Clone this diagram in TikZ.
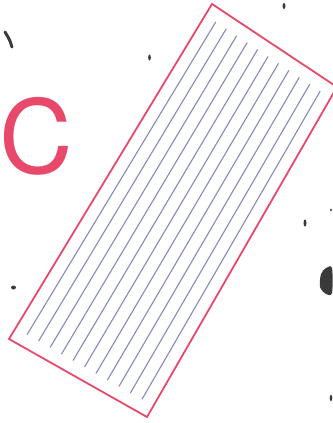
\documentclass[tikz,border=0pt]{standalone}
\usepackage{fontspec}
\setsansfont{TeX Gyre Heros}
\usetikzlibrary{positioning,calc}
\definecolor{pinkred}{HTML}{E8496A}
\definecolor{hatchblue}{HTML}{8589BC}
\definecolor{speck}{HTML}{3A3A3A}
\tikzset{
  frame/.style={draw=pinkred,line width=1.8pt,line join=miter},
  hatch/.style={draw=hatchblue,line width=1.1pt,line cap=round},
  letter/.style={text=pinkred,font=\sffamily\fontsize{102}{102}\selectfont,inner sep=0pt},
  dot/.style={fill=speck,draw=none},
  squig/.style={draw=speck,line width=3pt,line cap=round,line join=round},
}
\begin{document}
\begin{tikzpicture}[x=1pt,y=1pt]
  \useasboundingbox (0,0) rectangle (332,-423);
  % the letter
  \node[letter] (lbl) at (36,-136) {C};
  % corners of the tilted plate
  \coordinate (pt) at (212,-4);
  \coordinate (pr) at (337,-87);
  \coordinate (pb) at (147,-417);
  \coordinate (pl) at (9,-339);
  \draw[frame] (pt) -- (pr) -- (pb) -- (pl) -- cycle;
  % lines inside the plate
  \foreach \i in {1,...,11}{
    \coordinate (hs) at ($(pt)!\i/12!(pr)$);
    \coordinate (he) at ($(pl)!\i/12!(pb)$);
    \draw[hatch] ($(hs)!13pt!(he)$) -- ($(he)!13pt!(hs)$);
  }
  % specks
  \draw[squig] (5,-32) -- (8,-37) -- (10,-41) -- (12,-47);
  \fill[dot] (149.5,-57.5) ellipse (1.3 and 3);
  \fill[dot] (284,-6) ellipse (1.5 and 3);
  \fill[dot] (305,-223) ellipse (1.5 and 3.5);
  \fill[dot] plot[smooth cycle] coordinates {(321,-274) (326,-268) (332,-268) (332,-293) (326,-294) (320,-287)};
  \fill[dot] (331,-210) ellipse (1 and 1.5);
  \fill[dot] (331,-398) ellipse (1.3 and 3);
  \fill[dot] (13.5,-287.5) ellipse (2.5 and 2);
\end{tikzpicture}
\end{document}
